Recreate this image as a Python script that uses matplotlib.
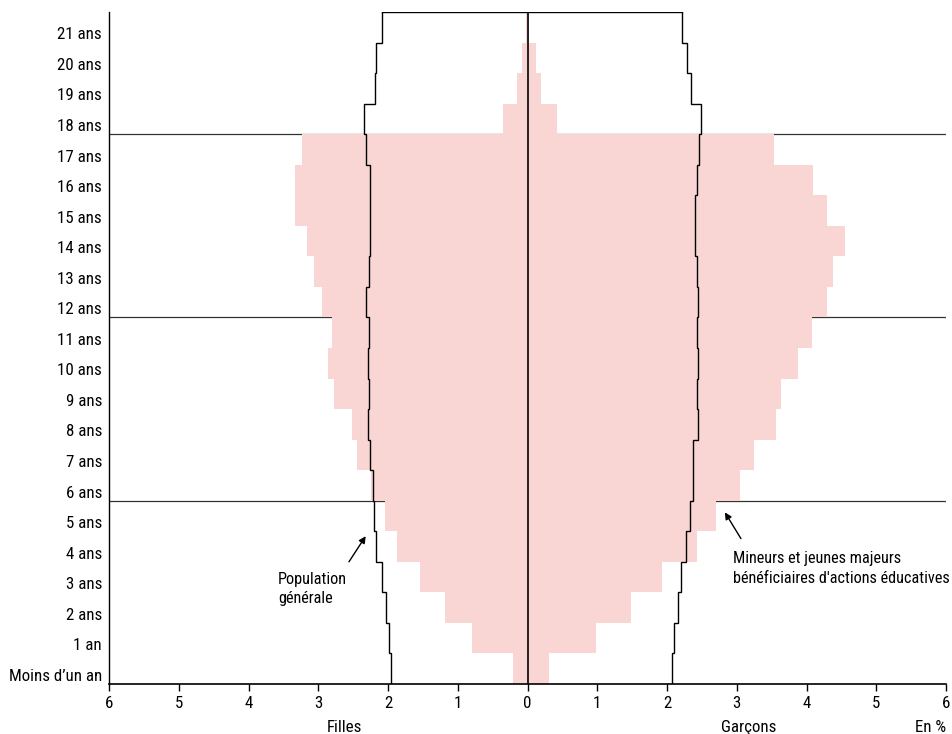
import numpy as np
import matplotlib.pyplot as plt

plt.rcParams['font.family'] = ['Roboto Condensed', 'Liberation Sans Narrow', 'Roboto', 'DejaVu Sans']

# tranches d'age, de bas en haut
ages = ["Moins d\u2019un an", "1 an"] + ["%d ans" % i for i in range(2, 22)]
# mineurs et jeunes majeurs (en %)
filles = [0.215, 0.79, 1.18, 1.54, 1.87, 2.04, 2.24, 2.44, 2.52, 2.78, 2.86,
          2.80, 2.94, 3.06, 3.16, 3.33, 3.33, 3.24, 0.354, 0.157, 0.08, 0.02]
garcons = [0.31, 0.975, 1.49, 1.93, 2.43, 2.70, 3.04, 3.25, 3.56, 3.64, 3.88,
           4.08, 4.30, 4.38, 4.55, 4.30, 4.10, 3.53, 0.42, 0.19, 0.115, 0.02]
# population generale (en %)
pop_filles = [1.95, 1.98, 2.03, 2.09, 2.165, 2.20, 2.22, 2.26, 2.29, 2.275, 2.29,
              2.27, 2.32, 2.27, 2.26, 2.26, 2.26, 2.31, 2.34, 2.19, 2.17, 2.09]
pop_garcons = [2.07, 2.10, 2.16, 2.20, 2.27, 2.33, 2.37, 2.37, 2.45, 2.43, 2.45,
               2.43, 2.45, 2.43, 2.40, 2.40, 2.43, 2.46, 2.49, 2.34, 2.28, 2.21]
seuils = [6, 12, 18]
xticks = [-6, -5, -4, -3, -2, -1, 0, 1, 2, 3, 4, 5, 6]

n = len(ages)
y = np.arange(n) + 0.5
edges = np.arange(n + 1)
rose = "#f9d6d3"
fs = 12.2
fa = 11.7

fig = plt.figure(figsize=(9.52, 7.34), dpi=100)
ax = fig.add_axes([0.1145, 0.0681, 0.8792, 0.9156])

for s in seuils:
    ax.axhline(s, color="#333333", linewidth=0.9, zorder=1)

ax.barh(y, -np.array(filles), height=1.0, color=rose, linewidth=0, zorder=2)
ax.barh(y, garcons, height=1.0, color=rose, linewidth=0, zorder=2)

# contour population generale
ax.stairs(-np.array(pop_filles), edges, orientation="horizontal", baseline=None,
          color="black", linewidth=1.0, zorder=3)
ax.stairs(pop_garcons, edges, orientation="horizontal", baseline=None,
          color="black", linewidth=1.0, zorder=3)
ax.plot([-pop_filles[-1], pop_garcons[-1]], [n, n], color="black", linewidth=1.0, zorder=3)
ax.axvline(0, color="black", linewidth=1.2, zorder=4)

ax.set_xlim(-6, 6)
ax.set_ylim(0, n)
ax.set_xticks(xticks)
ax.set_xticklabels([str(abs(v)) for v in xticks], fontsize=fs)
ax.set_yticks(y - 0.2)
ax.set_yticklabels(ages, fontsize=fs)
ax.tick_params(axis="y", length=0, pad=5)
ax.tick_params(axis="x", length=5, width=1, direction="out")
for side in ["top", "right"]:
    ax.spines[side].set_visible(False)
ax.spines["left"].set_linewidth(1.0)
ax.spines["bottom"].set_linewidth(1.2)

# libelles sous l'axe
ax.text(-2.62, -1.42, "Filles", ha="center", va="center", fontsize=fs)
ax.text(3.17, -1.42, "Gar\u00e7ons", ha="center", va="center", fontsize=fs)
ax.text(6.0, -1.42, "En %", ha="right", va="center", fontsize=fs)

# annotations
fleche = dict(arrowstyle="-|>", color="black", lw=1.0, shrinkA=0, shrinkB=0, mutation_scale=10)
ax.text(-3.58, 3.12, "Population\ng\u00e9n\u00e9rale", ha="left", va="center",
        fontsize=fa, linespacing=1.35)
ax.annotate("", xy=(-2.32, 4.84), xytext=(-2.56, 4.0), arrowprops=fleche)
ax.text(2.95, 3.78, "Mineurs et jeunes majeurs\nb\u00e9n\u00e9ficiaires d'actions \u00e9ducatives",
        ha="left", va="center", fontsize=fa, linespacing=1.35)
ax.annotate("", xy=(2.83, 5.62), xytext=(3.06, 4.76), arrowprops=fleche)

plt.savefig("out.png", dpi=100)
